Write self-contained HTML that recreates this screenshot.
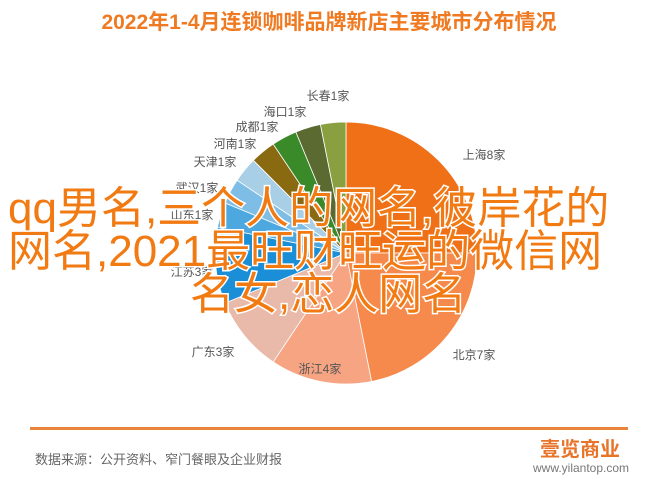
<!DOCTYPE html>
<html><head><meta charset="utf-8">
<style>
body{margin:0;width:658px;height:484px;background:#fff;overflow:hidden;position:relative;font-family:"Liberation Sans","Noto Sans CJK SC",sans-serif;}
.abs{position:absolute;white-space:nowrap}
.ov{font-size:44px;color:#f27a12;-webkit-text-stroke:3px #fff;paint-order:stroke fill;line-height:44px;font-family:"Liberation Sans","Noto Sans CJK SC",sans-serif;}
</style></head><body>
<div class="abs" style="left:0;width:658px;top:6px;text-align:center;font-size:21px;font-weight:bold;color:#ef7a22;">2022年1-4月连锁咖啡品牌新店主要城市分布情况</div>
<svg id="pie" width="658" height="484" style="position:absolute;left:0;top:0"></svg>
<div class="abs ov" style="left:8px;top:187px">qq男名,三个人的网名,彼岸花的</div>
<div class="abs ov" style="left:8px;top:230px">网名,2021最旺财旺运的微信网</div>
<div class="abs ov" style="left:190px;top:273px">名女,恋人网名</div>
<div class="abs" style="left:30px;top:427px;width:598px;height:3px;background:#e9843c"></div>
<div class="abs" style="left:35px;top:449px;font-size:13px;color:#666">数据来源：公开资料、窄门餐眼及企业财报</div>
<div class="abs" style="left:540px;top:433px;font-size:20px;color:#e8742a;font-weight:bold">壹览商业</div>
<div class="abs" style="left:533px;top:461px;font-size:12px;color:#777">www.yilantop.com</div>
<script>
const cities=["上海","北京","浙江","广东","江苏","山东","武汉","天津","河南","成都","海口","长春"];
const counts=[8,7,4,3,3,1,1,1,1,1,1,1];
const colors=["#f07018","#f58a4c","#f7a483","#e9b9a9","#1a8fd8","#4ea8e0","#7dbde6","#a9cfe6","#8a6a10","#3a8a2a","#5a6a30","#8aa040"];
const labelPos=[[484,155],[474,355],[320,369],[213,352],[192,272],[192,215],[197,188],[215,162],[235,144],[257,127],[285,112],[328,96]];
const cx=346,cy=253,r=131;
const svg=document.getElementById('pie');const NS="http://www.w3.org/2000/svg";
const total=counts.reduce((a,b)=>a+b,0);
let a0=0;
counts.forEach((v,i)=>{
 const a1=a0+v/total*2*Math.PI;
 const x0=cx+r*Math.sin(a0),y0=cy-r*Math.cos(a0),x1=cx+r*Math.sin(a1),y1=cy-r*Math.cos(a1);
 const p=document.createElementNS(NS,'path');
 p.setAttribute('d',`M${cx},${cy}L${x0},${y0}A${r},${r} 0 ${a1-a0>Math.PI?1:0} 1 ${x1},${y1}Z`);
 p.setAttribute('fill',colors[i]);p.setAttribute('stroke','#fff');p.setAttribute('stroke-width','0.8');
 
 
 svg.appendChild(p);
 const t=document.createElementNS(NS,'text');
 t.setAttribute('x',labelPos[i][0]);t.setAttribute('y',labelPos[i][1]+4);
 t.setAttribute('text-anchor','middle');t.setAttribute('font-size','12');t.setAttribute('fill','#555');
 t.setAttribute('font-family','"Liberation Sans","Noto Sans CJK SC",sans-serif');
 t.textContent=cities[i]+counts[i]+'家';
 
 
 svg.appendChild(t);
 a0=a1;
});
</script>
</body></html>
